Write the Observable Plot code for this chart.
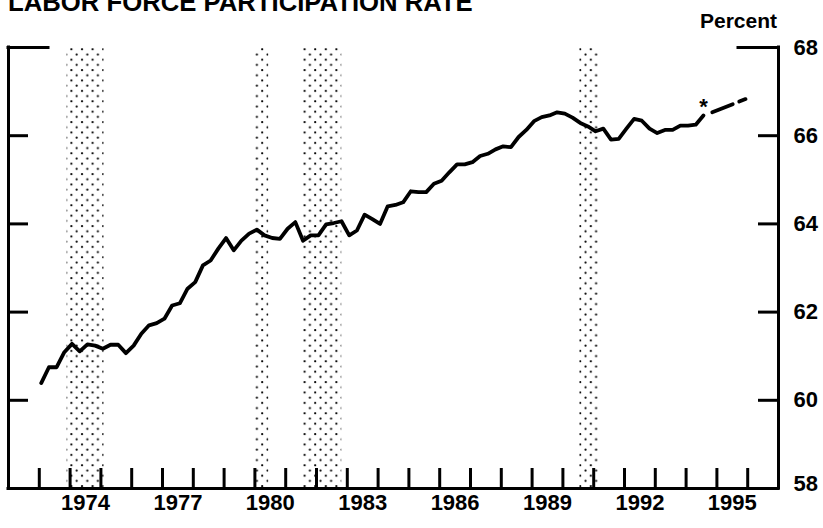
<!DOCTYPE html>
<html><head><meta charset="utf-8">
<script src="https://cdn.jsdelivr.net/npm/d3@7"></script>
<script src="https://cdn.jsdelivr.net/npm/@observablehq/plot@0.6"></script>
<style>
html,body{margin:0;padding:0;background:#fff;overflow:hidden;}
#wrap{position:relative;width:823px;height:528px;overflow:hidden;font-family:"Liberation Sans",Arial,sans-serif;color:#000;}
#chart{position:absolute;left:0;top:0;}
#title{position:absolute;left:8px;top:-10.2px;font-size:25.7px;font-weight:bold;line-height:25.7px;white-space:nowrap;}
#unit{position:absolute;right:46px;top:10.2px;font-size:21px;font-weight:bold;line-height:21px;white-space:nowrap;}
</style></head><body>
<div id="wrap"><div id="chart"></div><div id="title"></div><div id="unit"></div></div>
<script>
const titleText = "LABOR FORCE PARTICIPATION RATE";
const unitText = "Percent";

// Quarterly labor force participation rate, 1973Q1 onward (percent)
const firstQuarter = 1973.0625;
const rate = [
  60.39, 60.75, 60.75, 61.09, 61.28, 61.11, 61.27, 61.24,
  61.17, 61.26, 61.26, 61.07, 61.24, 61.51, 61.70, 61.75,
  61.85, 62.15, 62.20, 62.53, 62.68, 63.06, 63.17, 63.44,
  63.68, 63.40, 63.62, 63.78, 63.87, 63.74, 63.68, 63.66,
  63.89, 64.04, 63.62, 63.74, 63.74, 63.99, 64.02, 64.06,
  63.74, 63.85, 64.21, 64.11, 64.00, 64.40, 64.43, 64.49,
  64.74, 64.72, 64.72, 64.91, 64.98, 65.17, 65.35, 65.35,
  65.40, 65.54, 65.59, 65.69, 65.76, 65.74, 65.97, 66.13,
  66.33, 66.42, 66.46, 66.53, 66.50, 66.41, 66.29, 66.21,
  66.10, 66.16, 65.91, 65.93, 66.16, 66.38, 66.34, 66.16,
  66.06, 66.13, 66.13, 66.23, 66.23, 66.25, 66.46
];

// Projection (dashed)
const projYears = [1994.85, 1995.93];
const projRate = [66.53, 66.83];

// Recession shading
const recessionStart = [1973.9, 1980.0, 1981.55, 1990.55];
const recessionEnd = [1975.1, 1980.45, 1982.82, 1991.22];

// Axes
const yearTicks = [1973, 1974, 1975, 1976, 1977, 1978, 1979, 1980, 1981, 1982, 1983, 1984,
                   1985, 1986, 1987, 1988, 1989, 1990, 1991, 1992, 1993, 1994, 1995, 1996];
const yearLabels = [1974, 1977, 1980, 1983, 1986, 1989, 1992, 1995];
const yTicks = [58, 60, 62, 64, 66, 68];
const xDomain = [1972, 1997];
const yDomain = [58, 68];

document.getElementById("title").textContent = titleText;
document.getElementById("unit").textContent = unitText;

const W = 823, H = 528, mL = 8, mR = 45, mT = 47, mB = 40;
const plotW = W - mL - mR, plotH = H - mT - mB;

const data = rate.map((v, i) => ({t: firstQuarter + i / 4, v}));
const proj = projYears.map((t, i) => ({t, v: projRate[i]}));
const rec = recessionStart.map((s, i) => ({s, e: recessionEnd[i]}));
const innerTicks = yTicks.filter(v => v > yDomain[0] && v < yDomain[1]);
const topTick = [yDomain[1]];
const font = "'Liberation Sans', Arial, sans-serif";

const plot = Plot.plot({
  width: W, height: H,
  marginLeft: mL, marginRight: mR, marginTop: mT, marginBottom: mB,
  x: {domain: xDomain, axis: null},
  y: {domain: yDomain, axis: null},
  style: {fontFamily: font, background: "white", color: "#000", overflow: "visible"},
  marks: [
    Plot.rect(rec, {x1: "s", x2: "e", y1: () => yDomain[0], y2: () => yDomain[1], fill: "url(#dots)"}),
    Plot.line(data, {x: "t", y: "v", stroke: "#000", strokeWidth: 3.8, strokeLinejoin: "round", strokeLinecap: "round"}),
    Plot.line(proj, {x: "t", y: "v", stroke: "#000", strokeWidth: 3.8, strokeDasharray: "22,7"}),
    Plot.text([data[data.length - 1]], {x: "t", y: "v", text: () => "*", fontSize: 22, fontWeight: "bold", lineAnchor: "bottom", dy: -1, fill: "#000"}),
    // frame
    Plot.ruleY([yDomain[0]], {stroke: "#000", strokeWidth: 3, strokeLinecap: "square"}),
    Plot.ruleX(xDomain, {stroke: "#000", strokeWidth: 3, strokeLinecap: "square"}),
    // bottom year ticks (inward)
    Plot.tickX(yearTicks, {x: d => d, insetTop: plotH - 20, stroke: "#000", strokeWidth: 3}),
    // side ticks (inward)
    Plot.tickY(innerTicks, {y: d => d, insetRight: plotW - 20, stroke: "#000", strokeWidth: 3}),
    Plot.tickY(innerTicks, {y: d => d, insetLeft: plotW - 20, stroke: "#000", strokeWidth: 3}),
    Plot.tickY(topTick, {y: d => d, insetRight: plotW - 40, stroke: "#000", strokeWidth: 3, strokeLinecap: "square"}),
    Plot.tickY(topTick, {y: d => d, insetLeft: plotW - 40, stroke: "#000", strokeWidth: 3, strokeLinecap: "square"}),
    // y labels (right)
    Plot.text(yTicks.filter(v => v !== yDomain[0]), {y: d => d, text: d => String(d), frameAnchor: "right", dx: 15, textAnchor: "start", fontSize: 22, fontWeight: "bold", fill: "#000"}),
    Plot.text([yDomain[0]], {y: d => d, text: d => String(d), frameAnchor: "right", dx: 15, dy: -5, textAnchor: "start", fontSize: 22, fontWeight: "bold", fill: "#000"}),
    // year labels (centered in year)
    Plot.text(yearLabels, {x: d => d + 0.5, text: d => String(d), frameAnchor: "bottom", dy: 21, fontSize: 22, fontWeight: "bold", fill: "#000"})
  ]
});

const svg = d3.select(plot);
const pat = svg.insert("defs", ":first-child").append("pattern")
  .attr("id", "dots").attr("patternUnits", "userSpaceOnUse")
  .attr("width", 10.6).attr("height", 10.4);
pat.append("circle").attr("cx", 2.5).attr("cy", 2.5).attr("r", 1.1).attr("fill", "#000");
pat.append("circle").attr("cx", 7.8).attr("cy", 7.7).attr("r", 1.1).attr("fill", "#000");

document.getElementById("chart").appendChild(plot);
</script>
</body></html>
